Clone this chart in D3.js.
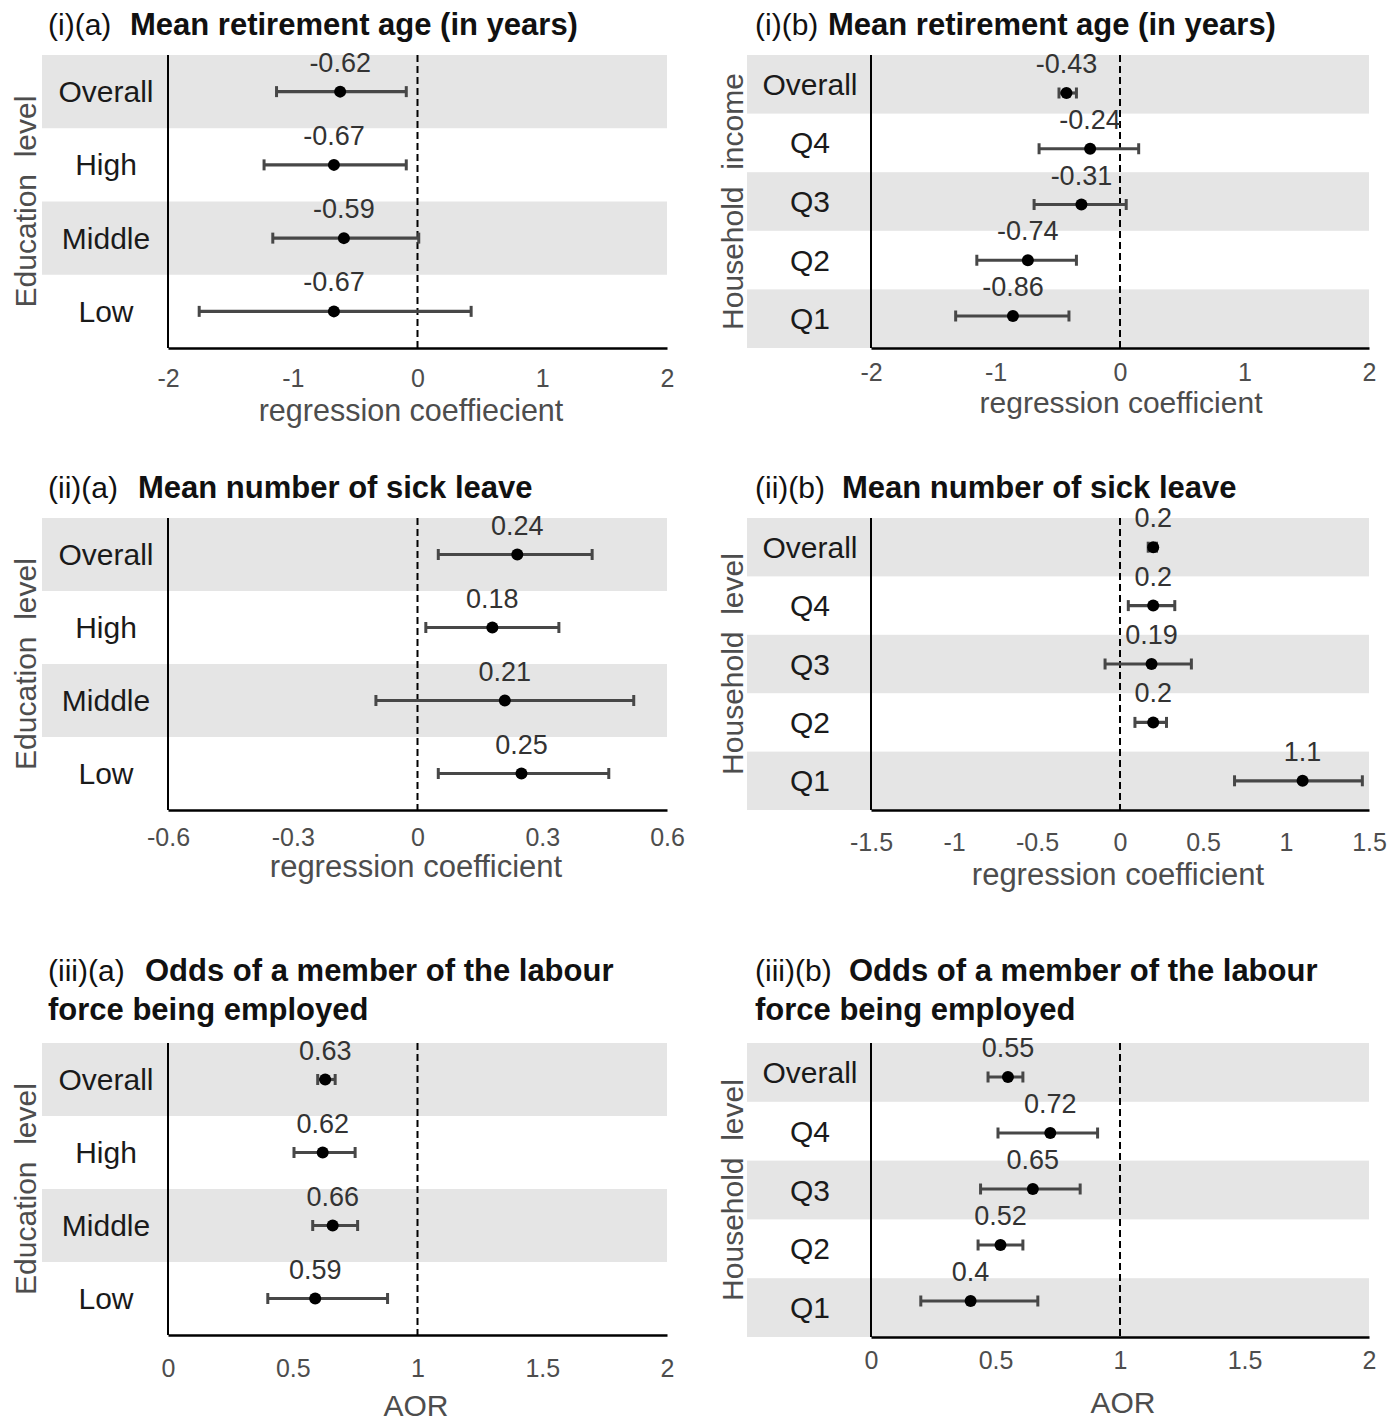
<!DOCTYPE html>
<html><head><meta charset="utf-8">
<script src="https://cdn.jsdelivr.net/npm/d3@7/dist/d3.min.js"></script>
<style>
body{margin:0;background:#fff;}
svg text{font-family:"Liberation Sans",Arial,Helvetica,sans-serif;}
</style></head>
<body><svg id="c" width="1400" height="1424"></svg>
<script>
// ---- data ----
const eduCats = ["Overall","High","Middle","Low"];
const incCats = ["Overall","Q4","Q3","Q2","Q1"];

const retEduEst = [-0.62,-0.67,-0.59,-0.67];
const retEduLo  = [-1.13,-1.23,-1.16,-1.75];
const retEduHi  = [-0.09,-0.09,0.01,0.43];

const retIncEst = [-0.43,-0.24,-0.31,-0.74,-0.86];
const retIncLo  = [-0.49,-0.65,-0.69,-1.15,-1.32];
const retIncHi  = [-0.35,0.15,0.05,-0.35,-0.41];

const sickEduEst = [0.24,0.18,0.21,0.25];
const sickEduLo  = [0.05,0.02,-0.10,0.05];
const sickEduHi  = [0.42,0.34,0.52,0.46];

const sickIncEst = [0.2,0.2,0.19,0.2,1.1];
const sickIncLo  = [0.17,0.05,-0.09,0.09,0.69];
const sickIncHi  = [0.22,0.33,0.43,0.28,1.46];

const empEduEst = [0.63,0.62,0.66,0.59];
const empEduLo  = [0.60,0.505,0.58,0.40];
const empEduHi  = [0.67,0.75,0.76,0.88];

const empIncEst = [0.55,0.72,0.65,0.52,0.4];
const empIncLo  = [0.47,0.51,0.44,0.43,0.20];
const empIncHi  = [0.61,0.91,0.84,0.61,0.67];

const ticksRet  = [-2,-1,0,1,2];
const ticksSickA = [-0.6,-0.3,0,0.3,0.6];
const ticksSickB = [-1.5,-1,-0.5,0,0.5,1,1.5];
const ticksAOR  = [0,0.5,1,1.5,2];

// ---- layout ----
const svg = d3.select("#c");
const panels = [
 {pre:"(i)(a)", title:["Mean retirement age (in years)"], preX:48, titleX:130, titleY:[35],
  bandL:42, L:168, R:667, T:55, B:348, domain:[-2,2], ticks:ticksRet, ref:0, tickY:387,
  xTitle:"regression coeffiecient", xTitleX:411, xTitleY:421, xTitleSize:30.5,
  yTitle:"Education  level", yTitleX:36, catX:106,
  cats:eduCats, est:retEduEst, lo:retEduLo, hi:retEduHi, shade:[0,2]},
 {pre:"(i)(b)", title:["Mean retirement age (in years)"], preX:755, titleX:828, titleY:[35],
  bandL:747, L:871, R:1369, T:55, B:348, domain:[-2,2], ticks:ticksRet, ref:0, tickY:381,
  xTitle:"regression coefficient", xTitleX:1121, xTitleY:413, xTitleSize:30,
  yTitle:"Household  income", yTitleX:743, catX:810, pointRange:[93,316],
  cats:incCats, est:retIncEst, lo:retIncLo, hi:retIncHi, shade:[0,2,4]},
 {pre:"(ii)(a)", title:["Mean number of sick leave"], preX:48, titleX:138, titleY:[498],
  bandL:42, L:168, R:667, T:518, B:810, domain:[-0.6,0.6], ticks:ticksSickA, ref:0, tickY:846,
  xTitle:"regression coefficient", xTitleX:416, xTitleY:877, xTitleSize:31,
  yTitle:"Education  level", yTitleX:36, catX:106,
  cats:eduCats, est:sickEduEst, lo:sickEduLo, hi:sickEduHi, shade:[0,2]},
 {pre:"(ii)(b)", title:["Mean number of sick leave"], preX:755, titleX:842, titleY:[498],
  bandL:747, L:871, R:1369, T:518, B:810, domain:[-1.5,1.5], ticks:ticksSickB, ref:0, tickY:851,
  xTitle:"regression coefficient", xTitleX:1118, xTitleY:885, xTitleSize:31,
  yTitle:"Household  level", yTitleX:743, catX:810,
  cats:incCats, est:sickIncEst, lo:sickIncLo, hi:sickIncHi, shade:[0,2,4]},
 {pre:"(iii)(a)", title:["Odds of a member of the labour","force being employed"], preX:48, titleX:145, titleY:[981,1020],
  bandL:42, L:168, R:667, T:1043, B:1335, domain:[0,2], ticks:ticksAOR, ref:1, tickY:1377,
  xTitle:"AOR", xTitleX:416, xTitleY:1416, xTitleSize:30,
  yTitle:"Education  level", yTitleX:36, catX:106,
  cats:eduCats, est:empEduEst, lo:empEduLo, hi:empEduHi, shade:[0,2]},
 {pre:"(iii)(b)", title:["Odds of a member of the labour","force being employed"], preX:755, titleX:849, titleY:[981,1020],
  bandL:747, L:871, R:1369, T:1043, B:1337, domain:[0,2], ticks:ticksAOR, ref:1, tickY:1369,
  xTitle:"AOR", xTitleX:1123, xTitleY:1413, xTitleSize:30,
  yTitle:"Household  level", yTitleX:743, catX:810, pointRange:[1077,1301],
  cats:incCats, est:empIncEst, lo:empIncLo, hi:empIncHi, shade:[0,2,4]}
];

panels.forEach(p => {
  const g = svg.append("g");
  const x = d3.scaleLinear().domain(p.domain).range([p.L, p.R]);
  const yb = d3.scaleBand().domain(p.cats).range([p.T, p.B]).padding(0);
  const pr = p.pointRange || [p.T + yb.bandwidth()/2, p.B - yb.bandwidth()/2];
  const yp = d3.scalePoint().domain(p.cats).range(pr);

  // title
  p.title.forEach((t,i) => {
    if (i === 0) {
      g.append("text").attr("x", p.preX).attr("y", p.titleY[0]).attr("font-size", 30).attr("fill","#111").text(p.pre);
      g.append("text").attr("x", p.titleX).attr("y", p.titleY[0]).attr("font-size", 31).attr("font-weight","bold").attr("fill","#111").text(t);
    } else {
      g.append("text").attr("x", p.preX).attr("y", p.titleY[i]).attr("font-size", 31).attr("font-weight","bold").attr("fill","#111").text(t);
    }
  });

  // shaded bands
  g.selectAll("rect.band").data(p.shade.map(i => p.cats[i])).join("rect")
    .attr("x", p.bandL).attr("width", p.R - p.bandL)
    .attr("y", d => yb(d)).attr("height", yb.bandwidth())
    .attr("fill", "#e5e5e5");

  // category labels
  g.selectAll("text.cat").data(p.cats).join("text")
    .attr("x", p.catX).attr("y", d => yb(d) + yb.bandwidth()/2 + 10.5)
    .attr("text-anchor","middle").attr("font-size", 30).attr("fill","#1a1a1a").text(d => d);

  // y title
  g.append("text").attr("transform", `translate(${p.yTitleX},${(p.T+p.B)/2}) rotate(-90)`)
    .attr("text-anchor","middle").attr("font-size", 30).attr("fill","#4d4d4d")
    .style("white-space","pre").text(p.yTitle);

  // reference dashed line
  g.append("line").attr("x1", x(p.ref)).attr("x2", x(p.ref)).attr("y1", p.T).attr("y2", p.B)
    .attr("stroke","#000").attr("stroke-width",2).attr("stroke-dasharray","7,4");

  // axes lines
  g.append("line").attr("x1", p.L).attr("x2", p.L).attr("y1", p.T).attr("y2", p.B)
    .attr("stroke","#000").attr("stroke-width",2);
  const ax = d3.axisBottom(x).tickValues(p.ticks).tickSizeInner(0).tickSizeOuter(0)
    .tickPadding(p.tickY - p.B - 25*0.71).tickFormat(d => String(d));
  const axg = g.append("g").attr("transform", `translate(0,${p.B})`).call(ax);
  axg.select(".domain").attr("stroke","#000").attr("stroke-width",2.5);
  axg.selectAll("text").attr("font-size", 25).attr("fill","#4d4d4d")
    .attr("font-family",'"Liberation Sans",Arial,sans-serif');

  // x title
  g.append("text").attr("x", p.xTitleX).attr("y", p.xTitleY).attr("text-anchor","middle")
    .attr("font-size", p.xTitleSize).attr("fill","#4d4d4d").text(p.xTitle);

  // error bars
  const rows = p.cats.map((c,i) => ({c, est:p.est[i], lo:p.lo[i], hi:p.hi[i]}));
  const eb = g.selectAll("g.eb").data(rows).join("g");
  const ebCol = "#474747";
  eb.append("line").attr("x1", d => x(d.lo)).attr("x2", d => x(d.hi))
    .attr("y1", d => yp(d.c)).attr("y2", d => yp(d.c)).attr("stroke",ebCol).attr("stroke-width",3.2);
  eb.append("line").attr("x1", d => x(d.lo)).attr("x2", d => x(d.lo))
    .attr("y1", d => yp(d.c)-5.5).attr("y2", d => yp(d.c)+5.5).attr("stroke",ebCol).attr("stroke-width",3);
  eb.append("line").attr("x1", d => x(d.hi)).attr("x2", d => x(d.hi))
    .attr("y1", d => yp(d.c)-5.5).attr("y2", d => yp(d.c)+5.5).attr("stroke",ebCol).attr("stroke-width",3);
  eb.append("circle").attr("cx", d => x(d.est)).attr("cy", d => yp(d.c)).attr("r",6).attr("fill","#000");
  eb.append("text").attr("x", d => x(d.est)).attr("y", d => yp(d.c) - 20)
    .attr("text-anchor","middle").attr("font-size", 27).attr("fill","#333").text(d => String(d.est));
});
</script></body></html>
